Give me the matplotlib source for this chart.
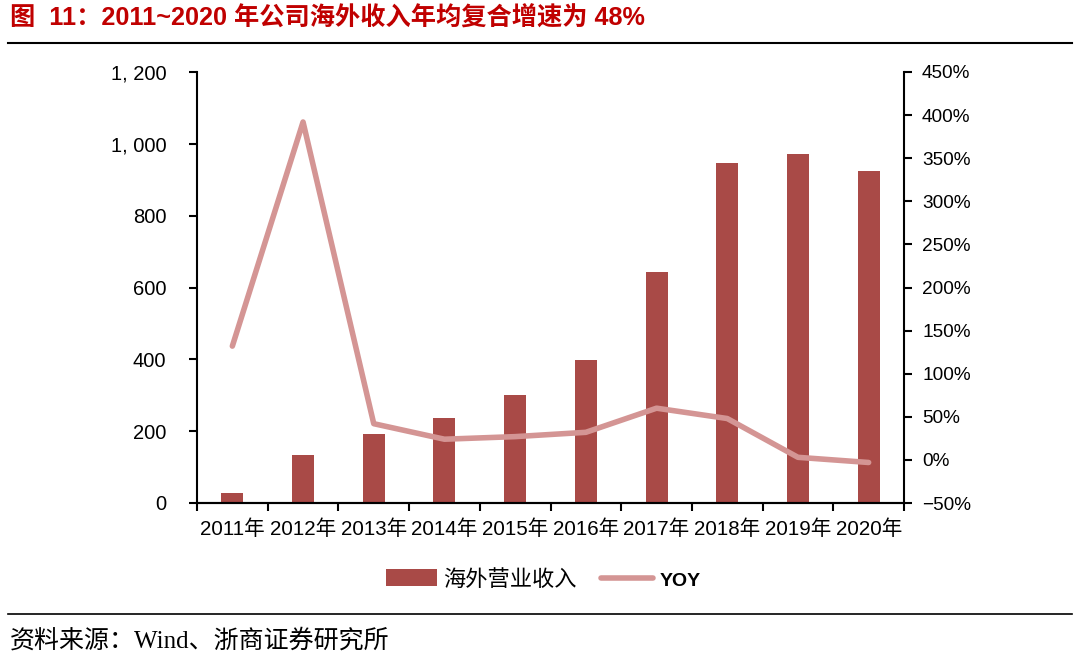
import numpy as np
import matplotlib
matplotlib.use("Agg")
import matplotlib.pyplot as plt
from matplotlib.ticker import FuncFormatter, MultipleLocator
from matplotlib.patches import Patch
from matplotlib.lines import Line2D

plt.rcParams['font.family'] = ['Liberation Sans', 'Noto Sans CJK SC', 'DejaVu Sans']

# data
years = ['2011年', '2012年', '2013年', '2014年', '2015年',
         '2016年', '2017年', '2018年', '2019年', '2020年']
overseas_revenue = [28, 134, 192, 237, 300, 398, 643, 947, 972, 925]
yoy_pct = [132, 392, 42, 24, 27, 32, 60, 48, 3, -3]

BAR_COLOR = '#A94A47'
LINE_COLOR = '#D49594'
TITLE_COLOR = '#C00000'

fig = plt.figure(figsize=(10.8, 6.63), dpi=100)
ax = fig.add_axes([197 / 1080, 1 - 503 / 663, 707 / 1080, 431 / 663])
ax2 = ax.twinx()

x = np.arange(len(years))
ax.bar(x, overseas_revenue, width=0.31, color=BAR_COLOR, zorder=2)
ax2.plot(x, yoy_pct, color=LINE_COLOR, linewidth=4, solid_capstyle='round', zorder=3)

ax.set_xlim(-0.5, len(years) - 0.5)
ax.set_ylim(0, 1200)
ax.yaxis.set_major_locator(MultipleLocator(200))
ax.yaxis.set_major_formatter(FuncFormatter(lambda v, p: f"{int(v):,}".replace(',', ', ')))
ax2.set_ylim(-50, 450)
ax2.yaxis.set_major_locator(MultipleLocator(50))
ax2.yaxis.set_major_formatter(FuncFormatter(lambda v, p: f"{int(v)}%".replace('-', '−')))

# ticks sit between categories, labels centred under bars
ax.set_xticks(np.arange(-0.5, len(years), 1.0))
ax.set_xticklabels([])
ax.set_xticks(x, minor=True)
ax.set_xticklabels(years, minor=True, fontsize=14.8)
ax.tick_params(axis='x', which='minor', length=0, pad=12)
ax.tick_params(axis='x', which='major', length=6, width=1.5, direction='out')

ax.tick_params(axis='y', length=6, width=1.5, labelsize=14.5, pad=16)
ax2.tick_params(axis='y', length=6, width=1.5, labelsize=13.7, pad=7)

for a in (ax, ax2):
    a.spines['top'].set_visible(False)
    for s in ('left', 'right', 'bottom'):
        a.spines[s].set_linewidth(1.5)
ax.spines['right'].set_visible(False)
ax2.spines['left'].set_visible(False)

# title and rules
fig.text(10 / 1080, 1 - 18 / 663, '图  11：2011~2020 年公司海外收入年均复合增速为 48%',
         fontsize=18.2, fontweight='bold', color=TITLE_COLOR,
         family=['Liberation Sans', 'Noto Sans CJK SC'], va='center', ha='left')
fig.add_artist(Line2D([8 / 1080, 1072 / 1080], [1 - 43 / 663, 1 - 43 / 663],
                      color='black', linewidth=1.5))
fig.add_artist(Line2D([8 / 1080, 1072 / 1080], [1 - 614 / 663, 1 - 614 / 663],
                      color='black', linewidth=1.2))
fig.text(10 / 1080, 1 - 641 / 663, '资料来源：Wind、浙商证券研究所', fontsize=18,
         family=['Liberation Serif', 'Noto Sans CJK SC'], va='center', ha='left')

handles = [Patch(facecolor=BAR_COLOR, edgecolor='none'),
           Line2D([0], [0], color=LINE_COLOR, linewidth=4, solid_capstyle='round')]
leg = fig.legend(handles, ['海外营业收入', 'YOY'], loc='center',
                 bbox_to_anchor=(543 / 1080, 1 - 580 / 663), ncol=2, frameon=False,
                 fontsize=16, handlelength=2.3, handleheight=0.8, columnspacing=1.1,
                 handletextpad=0.3)
leg.get_texts()[1].set_fontsize(14)
leg.get_texts()[1].set_fontweight('bold')

fig.savefig('out.png', dpi=100)
